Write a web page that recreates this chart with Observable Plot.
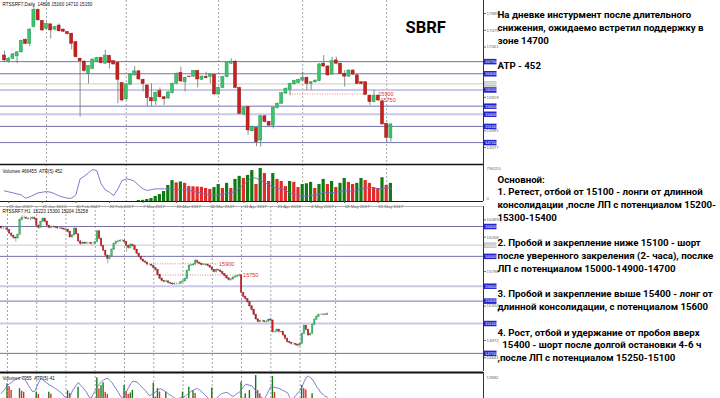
<!DOCTYPE html>
<html><head><meta charset="utf-8">
<script src="https://cdn.jsdelivr.net/npm/d3@7"></script>
<script src="https://cdn.jsdelivr.net/npm/@observablehq/plot@0.6"></script>
<style>
html,body{margin:0;padding:0;background:#fff;width:720px;height:398px;overflow:hidden;}
#root{position:relative;width:720px;height:398px;overflow:hidden;background:#fff;}
</style></head><body><div id="root"></div>
<script>
// ---------------- DATA: daily SBRF candles (index 0..92) ----------------
const dailyOpen = [16850,16690,16770,16830,16930,17240,17140,17550,17980,17700,
17510,17620,17490,17590,17490,17430,17390,17180,16770,16700,
16400,16520,16690,16790,16650,16840,16710,16670,16170,15770,
16130,16360,16460,16250,16110,15800,15720,15970,15820,15790,
15920,16150,16420,16190,16330,16330,16470,16250,16320,16320,
16370,15890,16050,16320,16650,16700,16050,15390,15580,14980,
15060,14750,15350,15210,15120,15550,15660,15910,16000,16140,
16170,16230,16300,16150,16190,16220,16650,16580,16380,16730,
16650,16400,16330,16480,16360,16190,16190,15860,15700,15860,
15720,15160,14806];
const dailyHigh = [16960,16800,16900,16950,17230,17260,17520,18110,18000,17720,
17660,17640,17570,17630,17510,17440,17400,17200,16790,16720,
16600,16770,16800,16810,16980,16860,16730,16690,16180,16150,
16400,16580,16480,16270,16130,16150,15950,16050,15840,15960,
16170,16420,16560,16320,16340,16480,16480,16350,16440,16400,
16390,16070,16330,16700,16770,16720,16070,15580,15590,15100,
15070,15370,15360,15220,15580,15680,15940,16050,16170,16240,
16270,16440,16320,16210,16250,16650,16850,16600,16810,16810,
16660,16480,16500,16500,16380,16210,16210,15880,15990,15880,
15740,15180,15160];
const dailyLow = [16690,16660,16750,16650,16910,17120,17070,17530,17700,17450,
17490,17260,17460,17430,17420,17360,16990,16790,15330,16440,
16150,16500,16670,16640,16630,16520,16610,15660,15700,15740,
16110,16340,16240,15950,15580,15590,15620,15800,15620,15770,
15900,16130,16190,15950,16300,16310,16050,16230,16270,16150,
15870,15870,16040,16300,16630,16030,15390,15370,14880,14970,
14600,14590,15190,15100,15040,15530,15640,15890,15860,16120,
16150,16220,15990,15990,16170,16200,16560,16340,16360,16620,
16380,16070,16310,16360,16130,16130,15860,15620,15680,15720,
15130,14710,14710];
const dailyClose = [16730,16770,16880,16930,17210,17140,17490,17980,17720,17470,
17630,17470,17550,17450,17440,17380,17140,16810,16710,16470,
16590,16750,16790,16660,16850,16660,16630,16250,15740,16140,
16380,16460,16260,16150,15800,15720,15930,15820,15770,15940,
16150,16400,16210,16300,16320,16470,16260,16330,16290,16380,
15890,16050,16320,16680,16700,16050,15410,15560,15000,15080,
14710,15350,15210,15120,15560,15660,15920,16030,16150,16220,
16250,16300,16150,16190,16230,16630,16580,16360,16710,16650,
16400,16330,16480,16380,16150,16150,15880,15700,15860,15740,
15150,14820,15150];
// daily volume, thousands (no data for the first 32 bars)
const dailyVolume = [null,null,null,null,null,null,null,null,null,null,
null,null,null,null,null,null,null,null,null,null,
null,null,null,null,null,null,null,null,null,null,
null,null,20,25,45,65,110,150,215,345,
450,400,420,390,320,315,310,305,280,260,
300,365,280,390,280,475,540,495,560,665,
365,710,600,430,600,475,430,320,430,410,
300,365,380,410,280,365,475,365,430,300,
390,495,410,365,390,495,450,390,300,280,
510,345,390];
const dailyATR = [392,369,346,323,301,225,255,301,346,361,
376,361,323,278,248,225,225,301,664,725,
800,876,846,551,414,361,286,437,626,664,
649,604,513,437,399,422,437,437,437,437,
429,422,422,414,407,376,361,339,308,293,
286,293,316,339,354,376,460,540,620,694,
679,626,573,528,475,452,437,399,346,316,
278,270,270,286,301,316,361,354,346,361,
376,399,392,376,407,437,452,467,460,437,
444,460,452];
const dailyGrid = [10, 29, 51, 71, 91];
const dailyDateTicks = [1, 9, 17, 25, 33, 41, 49, 57, 65, 73, 81, 89];
const dailyDateLabels = ["19 Jan 2017","31 Jan 2017","10 Feb 2017","22 Feb 2017","7 Mar 2017","20 Mar 2017","30 Mar 2017","11 Apr 2017","21 Apr 2017","4 May 2017","18 May 2017","30 May 2017"];
const dailyPriceTicks = [17889,17475,17061,16647,16233,15819,15405,14991,14577];
const dailyLevels = [16700,16400,16150,16000,15600,15400,15100,14700];
const dailyLightLevels = [16000,15400];
const grayLevel = 16150;
const dailyDotted = [{price:15900, from:68, to:86.4}];
const dailyNoteLabels = [{price:15900, at:89.0, label:"15900"},{price:15750, at:89.5, label:"15750"}];

// ---------------- DATA: hourly candles (index 0..156) ----------------
const hourlyFirstOpen = 16390;
const hourlyClose = [16375,16375,16375,16350,16305,16275,16250,16240,16290,16485,
16515,16515,16505,16500,16500,16510,16500,16410,16385,16460,
16500,16465,16410,16380,16390,16390,16385,16375,16375,16370,
16360,16355,16325,16255,16280,16370,16295,16200,16165,16180,
16170,16175,16175,16165,16165,16190,16335,16235,16135,16075,
16010,15965,16000,16090,16165,16190,16200,16210,16210,16190,
16140,16110,16155,16140,16085,16035,15995,15955,15930,15915,
15890,15890,15875,15840,15815,15750,15700,15670,15660,15665,
15645,15635,15625,15630,15630,15630,15655,15665,15695,15805,
15875,15880,15890,15935,15915,15900,15885,15890,15885,15870,
15850,15815,15790,15815,15810,15790,15760,15735,15705,15680,
15690,15715,15725,15735,15745,15510,15455,15425,15385,15330,
15280,15215,15155,15120,15130,15130,15120,15125,15150,15140,
14985,14990,15015,14990,14985,14940,14895,14850,14840,14825,
14825,14815,14805,14825,14960,15065,15015,14940,14960,15080,
15150,15190,15215,15215,15220,15215,15225];
const hourlyHigh = [16410,16395,16390,16385,16360,16315,16285,16265,16300,16500,
16545,16540,16530,16520,16525,16530,16525,16510,16425,16475,
16520,16510,16475,16420,16405,16405,16400,16395,16390,16385,
16385,16370,16365,16335,16295,16390,16380,16305,16210,16195,
16195,16190,16185,16185,16180,16200,16350,16345,16245,16150,
16085,16020,16015,16105,16175,16205,16215,16225,16225,16220,
16200,16150,16170,16165,16150,16095,16045,16005,15965,15945,
15925,15905,15900,15885,15850,15825,15760,15710,15680,15680,
15675,15655,15645,15645,15645,15640,15665,15680,15705,15815,
15890,15895,15905,15960,15945,15925,15910,15905,15900,15895,
15880,15860,15825,15830,15825,15820,15800,15770,15745,15715,
15705,15725,15740,15745,15760,15760,15520,15470,15435,15395,
15340,15290,15225,15165,15145,15145,15140,15140,15165,15175,
15150,15005,15030,15025,15000,14995,14950,14905,14865,14850,
14840,14835,14825,14840,14975,15080,15075,15025,14975,15095,
15165,15205,15230,15230,15235,15230,15240];
const hourlyLow = [16360,16355,16350,16335,16290,16255,16225,16190,16230,16280,
16470,16495,16490,16485,16480,16490,16480,16395,16360,16375,
16450,16450,16395,16365,16370,16375,16370,16360,16360,16355,
16345,16340,16310,16240,16245,16270,16285,16185,16150,16155,
16160,16160,16160,16150,16150,16155,16180,16220,16120,16060,
15995,15900,15950,15990,16080,16155,16180,16190,16195,16175,
16055,16095,16100,16125,16070,16020,15980,15940,15915,15900,
15875,15875,15860,15825,15800,15735,15685,15655,15645,15645,
15630,15620,15610,15610,15615,15615,15620,15645,15655,15685,
15795,15865,15865,15880,15900,15885,15870,15875,15870,15855,
15835,15800,15775,15780,15795,15775,15745,15720,15690,15665,
15670,15680,15705,15715,15725,15495,15440,15410,15370,15315,
15265,15200,15140,15105,15110,15115,15105,15110,15115,15125,
14970,14970,14980,14975,14970,14925,14880,14835,14825,14810,
14810,14795,14780,14790,14815,14950,15000,14925,14930,14950,
15070,15140,15180,15205,15205,15205,15205];
const hourlyVolume = [4200,3100,2800,10700,9900,8750,5200,4600,5800,9250,
8550,8250,4100,3500,3000,2600,3800,8300,7600,5600,
4800,3900,4300,8250,7700,3600,2900,2500,2200,2700,
3300,4100,8700,7900,5200,6100,4500,9700,6200,4800,
3500,2900,2600,2400,3200,4000,12450,9200,10200,11000,
8200,7600,5400,4600,4100,3600,2800,2500,3400,10200,
8500,7600,8000,8800,5900,4700,4200,3600,3300,2900,
2600,2900,4200,10900,6800,9300,8300,5200,4300,8300,
5100,3800,3100,2700,2500,3500,4600,8300,5500,6500,
9700,6300,8700,7900,5600,4400,3900,3100,2800,2700,
4800,9500,6100,4700,3800,3300,3900,3600,3000,2700,
2400,2900,3700,4300,4900,11170,6500,7790,5400,8750,
6100,5300,13100,8750,7800,5200,4400,3800,3200,4600,
12800,8200,5600,4600,3700,4900,5800,4200,3500,3000,
2700,3900,4500,5200,10200,9300,8900,6200,4700,7800,
6000,4700,3600,2900,2500,2200,1800];
const hourlyATR = [51,55,60,66,69,72,75,77,79,81,
79,77,73,66,60,54,55,63,72,79,
76,73,70,67,65,62,60,57,54,51,
46,43,39,45,55,61,67,71,66,62,
57,52,44,42,49,56,63,68,73,76,
78,79,75,71,65,59,53,46,41,47,
55,62,69,74,73,72,68,64,60,56,
51,46,49,52,54,57,60,58,56,53,
50,47,45,42,41,41,43,44,45,49,
52,55,57,59,60,57,54,50,46,42,
40,38,36,41,46,49,51,52,53,50,
47,45,48,51,53,58,64,68,67,66,
65,60,54,48,45,42,40,48,56,63,
63,62,61,60,58,56,54,52,44,38,
42,47,52,56,64,73,81,83,80,77,
70,63,58,52,49,45,44];
const hourlyGrid = [3,17,31,45,59,73,87,101,115,129,143,160];
const hourlyPriceTicks = [16489,16258,16027,15796,15565,15334,15103,14872,14641];
const hourlyLevels = [16400,16150,16000,15600,15400,15100,14700];
const hourlyLightLevels = [15600,15100];
const hourlyDotted = [{price:15900, from:73.8, to:104, label:"15900"},{price:15750, from:73.8, to:115.5, label:"15750"}];

const dailyTitle = "RTSSRF7,Daily  14806 15160 14710 15150";
const dailyVolTitle = "Volumes 466455  ATR(5) 452";
const dailyVolMax = "794155";
const hourlyTitle = "RTSSRF7,H1  15223 15300 15204 15258";
const hourlyVolTitle = "Volumes 7955  ATR(5) 41";
const hourlyVolMax = "13982";

const notesTop = ["На дневке инстурмент после длительного","снижения, ожидаемо встретил поддержку в","зоне 14700","","АТР - 452"];
const notesMain = ["Основной:","1. Ретест, отбой от 15100 - лонги от длинной","консолидации ,после ЛП с потенциалом 15200-","15300-15400","","2. Пробой и закрепление ниже 15100 - шорт","после уверенного закреления (2- часа), послке","ЛП с потенциалом 15000-14900-14700","","3. Пробой и закрепление выше 15400 - лонг от","длинной консолидации, с потенциалом 15600","","4. Рост, отбой и удержание от пробоя вверх","\u00a0\u00a015400 - шорт после долгой остановки 4-6 ч",",после ЛП с потенциалом 15250-15100"];
const tickerLabel = "SBRF";

// ---------------- build ----------------
const daily = dailyOpen.map((o,k)=>({k, open:o, high:dailyHigh[k], low:dailyLow[k], close:dailyClose[k], vol:dailyVolume[k], atr:dailyATR[k]}));
daily.forEach((d,i)=>{ const p = i>0 ? daily[i-1].vol : null; d.vup = (p==null || d.vol>p); });
const hourlyOpen = [hourlyFirstOpen, ...hourlyClose.slice(0,-1)];
const hourly = hourlyClose.map((c,b)=>({b, open:hourlyOpen[b], high:hourlyHigh[b], low:hourlyLow[b], close:c, vol:hourlyVolume[b], atr:hourlyATR[b]}));
hourly.forEach((d,i)=>{ d.vup = i===0 || d.vol>hourly[i-1].vol; });

const GREEN="#3bc46c", GREEN_E="#259a50", RED="#c81f1f", RED_E="#981414", WICK="#707070";
const VGREEN="#127a14", VRED="#e22a2a";
const LDARK="#7373aa", LLIGHT="#cacae8", LGRAY="#c9c9c9", GRID="#8a8a8a", BOX="#2323cf";
const ATRC="#6d6dc8";
const FONT="'Liberation Sans', Arial, sans-serif";
const baseStyle = {background:"transparent", overflow:"visible", fontFamily:FONT, maxWidth:"none"};
const root = document.getElementById("root");
function place(node, top){ node.style.position="absolute"; node.style.left="0px"; node.style.top=top+"px"; root.appendChild(node); }
const levelStyle = (v, light) => v===grayLevel ? LGRAY : (light.includes(v) ? LLIGHT : LDARK);

// daily price panel
const DX = [-0.952, 114.05];
const dsx = d3.scaleLinear(DX, [0,483]);
const dBx1 = dsx.invert(484), dBx2 = dsx.invert(496.5), dBxm = (dBx1+dBx2)/2;
const DY = [14159, 18210];
const dsy = d3.scaleLinear(DY, [164,0]);
// tick labels hidden behind the level boxes are dropped, as in the terminal
const dailyTicksShown = dailyPriceTicks.filter(t => dailyLevels.every(l => Math.abs(dsy(t)-dsy(l)) > 4.2));
const p1 = Plot.plot({
  width:497, height:164, marginLeft:0, marginRight:14, marginTop:0, marginBottom:0,
  style: baseStyle,
  x:{domain:DX, axis:null}, y:{domain:DY, axis:null},
  marks:[
    Plot.ruleX(dailyGrid, {x:d=>d, stroke:GRID, strokeDasharray:"2,2", strokeWidth:0.8}),
    Plot.ruleY(dailyLevels, {y:d=>d, stroke:d=>levelStyle(d,dailyLightLevels), strokeWidth:d=>dailyLightLevels.includes(d)?2:1}),
    Plot.ruleY(dailyDotted, {y:"price", x1:"from", x2:"to", stroke:"#e06565", strokeDasharray:"1,1.5", strokeWidth:0.8}),
    Plot.ruleX(daily, {x:"k", y1:"low", y2:"high", stroke:WICK, strokeWidth:0.8}),
    Plot.rect(daily, {x1:d=>d.k-0.36, x2:d=>d.k+0.36, y1:"open", y2:"close", fill:d=>d.close>=d.open?GREEN:RED, stroke:d=>d.close>=d.open?GREEN_E:RED_E, strokeWidth:0.5}),
    Plot.text(dailyNoteLabels, {x:"at", y:"price", text:"label", textAnchor:"start", fill:"#e03030", fontSize:5.5}),
    Plot.ruleX([DX[1]], {stroke:"#000", strokeWidth:0.8}),
    Plot.axisY(dailyTicksShown, {anchor:"right", tickSize:2, tickPadding:1, fontSize:4.4, color:"#6a6a6a", tickFormat:d=>String(d), label:null}),
    Plot.ruleY(dailyLevels, {y:d=>d, x1:dBx1, x2:dBx2, stroke:d=>d===grayLevel?"#c4c4c4":BOX, strokeWidth:5.5}),
    Plot.text(dailyLevels, {x:dBxm, y:d=>d, text:d=>String(d), fill:"#fff", fontSize:4.2}),
    Plot.text([dailyTitle], {frameAnchor:"top-left", dx:2, dy:2.5, fontSize:4.6, fill:"#111"})
  ]
});
place(p1, 0);

// daily volume panel
const VY = [0, 795];
const p2 = Plot.plot({
  width:497, height:45, marginLeft:0, marginRight:14, marginTop:0, marginBottom:8,
  style: baseStyle,
  x:{domain:DX, axis:null}, y:{domain:VY, axis:null},
  marks:[
    Plot.ruleX(dailyGrid, {x:d=>d, stroke:GRID, strokeDasharray:"2,2", strokeWidth:0.8}),
    Plot.rect(daily.filter(d=>d.vol!=null), {x1:d=>d.k-0.38, x2:d=>d.k+0.38, y1:0, y2:"vol", fill:d=>d.vup?VGREEN:VRED}),
    Plot.ruleY([VY[0]], {stroke:"#000", strokeWidth:0.9}),
    Plot.ruleY([VY[1]], {stroke:"#111", strokeWidth:1.6}),
    Plot.ruleX([DX[1]], {stroke:"#000", strokeWidth:0.8}),
    Plot.axisX(dailyDateTicks, {anchor:"bottom", tickSize:2, tickPadding:1, fontSize:4.3, textAnchor:"start", color:"#555", tickFormat:d=>dailyDateLabels[dailyDateTicks.indexOf(d)], label:null}),
    Plot.text([dailyVolTitle], {frameAnchor:"top-left", dx:2, dy:5, fontSize:4.6, fill:"#111"}),
    Plot.text([dailyVolMax], {frameAnchor:"top-right", dx:3, dy:2.5, textAnchor:"start", fontSize:4.3, fill:"#666"}),
    Plot.text(["0"], {frameAnchor:"bottom-right", dx:3, dy:-2, textAnchor:"start", fontSize:4.3, fill:"#666"})
  ]
});
place(p2, 164);
const p2b = Plot.plot({
  width:497, height:45, marginLeft:0, marginRight:14, marginTop:0, marginBottom:8,
  style: baseStyle,
  x:{domain:DX, axis:null}, y:{domain:[150,990], axis:null},
  marks:[ Plot.line(daily, {x:"k", y:"atr", stroke:ATRC, strokeWidth:0.9}) ]
});
place(p2b, 164);

// hourly price panel
const HX = [-0.335, 230.77];
const hsx = d3.scaleLinear(HX, [0,483]);
const hBx1 = hsx.invert(484), hBx2 = hsx.invert(496.5), hBxm = (hBx1+hBx2)/2;
const HY = [14457, 16668];
const hsy = d3.scaleLinear(HY, [165,0]);
const hourlyTicksShown = hourlyPriceTicks.filter(t => hourlyLevels.every(l => Math.abs(hsy(t)-hsy(l)) > 4.2));
const p3 = Plot.plot({
  width:497, height:165, marginLeft:0, marginRight:14, marginTop:0, marginBottom:0,
  style: baseStyle,
  x:{domain:HX, axis:null}, y:{domain:HY, axis:null},
  marks:[
    Plot.ruleX(hourlyGrid, {x:d=>d, stroke:GRID, strokeDasharray:"2,2", strokeWidth:0.8}),
    Plot.ruleY(hourlyLevels, {y:d=>d, stroke:d=>levelStyle(d,hourlyLightLevels), strokeWidth:d=>hourlyLightLevels.includes(d)?2:1}),
    Plot.ruleY(hourlyDotted, {y:"price", x1:"from", x2:"to", stroke:"#e06565", strokeDasharray:"1,1.5", strokeWidth:0.8}),
    Plot.ruleX(hourly, {x:"b", y1:"low", y2:"high", stroke:WICK, strokeWidth:0.6}),
    Plot.rect(hourly, {x1:d=>d.b-0.33, x2:d=>d.b+0.33, y1:"open", y2:"close", fill:d=>d.close>=d.open?GREEN:RED, stroke:d=>d.close>=d.open?GREEN_E:RED_E, strokeWidth:0.4}),
    Plot.text(hourlyDotted, {x:"to", y:"price", text:"label", textAnchor:"start", dx:0.5, fill:"#e03030", fontSize:5.5}),
    Plot.ruleY([HY[1]], {stroke:"#9a9a9a", strokeWidth:0.8}),
    Plot.ruleX([HX[1]], {stroke:"#000", strokeWidth:0.8}),
    Plot.axisY(hourlyTicksShown, {anchor:"right", tickSize:2, tickPadding:1, fontSize:4.4, color:"#6a6a6a", tickFormat:d=>String(d), label:null}),
    Plot.ruleY(hourlyLevels, {y:d=>d, x1:hBx1, x2:hBx2, stroke:d=>d===grayLevel?"#c4c4c4":BOX, strokeWidth:5.5}),
    Plot.text(hourlyLevels, {x:hBxm, y:d=>d, text:d=>String(d), fill:"#fff", fontSize:4.2}),
    Plot.text([hourlyTitle], {frameAnchor:"top-left", dx:2, dy:3.5, fontSize:4.6, fill:"#111"})
  ]
});
place(p3, 206);

// hourly volume panel (runs past the bottom edge of the window)
const HVY = [0, 14000];
const p4 = Plot.plot({
  width:497, height:48, marginLeft:0, marginRight:14, marginTop:0, marginBottom:0,
  style: baseStyle,
  x:{domain:HX, axis:null}, y:{domain:HVY, axis:null},
  marks:[
    Plot.ruleX(hourlyGrid, {x:d=>d, stroke:GRID, strokeDasharray:"2,2", strokeWidth:0.8}),
    Plot.rect(hourly, {x1:d=>d.b-0.33, x2:d=>d.b+0.33, y1:0, y2:"vol", fill:d=>d.vup?VGREEN:VRED}),
    Plot.ruleY([HVY[1]], {stroke:"#111", strokeWidth:1.8}),
    Plot.ruleX([HX[1]], {stroke:"#000", strokeWidth:0.8}),
    Plot.text([hourlyVolTitle], {frameAnchor:"top-left", dx:2, dy:4.5, fontSize:4.6, fill:"#111"}),
    Plot.text([hourlyVolMax], {frameAnchor:"top-right", dx:3, dy:3, textAnchor:"start", fontSize:4.3, fill:"#666"})
  ]
});
place(p4, 372);
const p4b = Plot.plot({
  width:497, height:48, marginLeft:0, marginRight:14, marginTop:0, marginBottom:0,
  style: baseStyle,
  x:{domain:HX, axis:null}, y:{domain:[0,90], axis:null},
  marks:[ Plot.line(hourly, {x:"b", y:"atr", stroke:ATRC, strokeWidth:0.9}) ]
});
place(p4b, 372);

// right-hand commentary and ticker
const svgT = d3.create("svg").attr("width",720).attr("height",398)
  .style("position","absolute").style("left","0px").style("top","0px").style("pointer-events","none");
const g = svgT.append("g").attr("font-family","Roboto, 'Open Sans', sans-serif").attr("font-weight",700)
  .attr("font-size",9.7).attr("fill","#000");
g.selectAll("text.a").data(notesTop).join("text").attr("class","a").attr("x",497.5).attr("y",(d,i)=>18.3+i*12.75).text(d=>d);
g.selectAll("text.b").data(notesMain).join("text").attr("class","b").attr("x",497.5).attr("y",(d,i)=>182.7+i*12.75).text(d=>d);
svgT.append("text").attr("x",405.5).attr("y",32.7).attr("font-family","Roboto, sans-serif").attr("font-weight",700)
  .attr("font-size",16.5).attr("fill","#000").text(tickerLabel);
root.appendChild(svgT.node());
</script></body></html>
